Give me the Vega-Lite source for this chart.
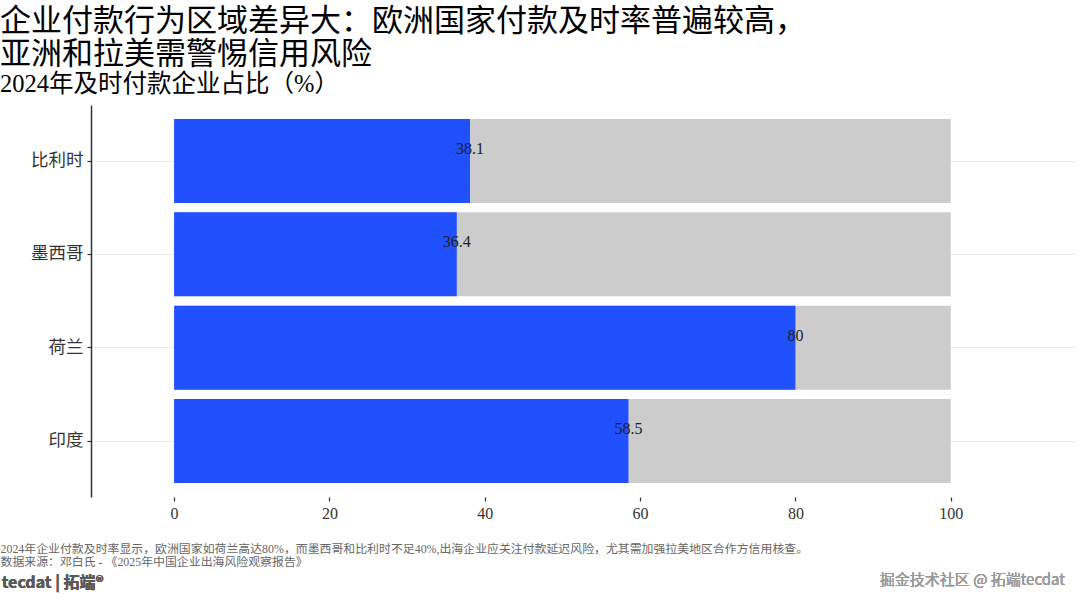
{
  "$schema": "https://vega.github.io/schema/vega-lite/v6.json",
  "width": 984,
  "height": 392,
  "autosize": {"type": "none"},
  "padding": {"left": 91, "top": 105, "right": 5, "bottom": 108},
  "background": "white",
  "config": {
    "view": {"stroke": null},
    "font": "Liberation Serif, Noto Sans CJK SC"
  },
  "title": {
    "text": ["企业付款行为区域差异大：欧洲国家付款及时率普遍较高，", "亚洲和拉美需警惕信用风险"],
    "subtitle": "2024年及时付款企业占比（%）",
    "anchor": "start",
    "frame": "group",
    "dx": -91,
    "offset": 8,
    "font": "Liberation Serif, Noto Sans CJK SC",
    "fontSize": 31,
    "fontWeight": "normal",
    "lineHeight": 32.5,
    "color": "#000000",
    "subtitleFont": "Liberation Serif, Noto Sans CJK SC",
    "subtitleFontSize": 24.5,
    "subtitleColor": "#000000",
    "subtitlePadding": 2
  },
  "data": {
    "values": [
      {"country": "比利时", "value": 38.1, "total": 100},
      {"country": "墨西哥", "value": 36.4, "total": 100},
      {"country": "荷兰", "value": 80, "total": 100},
      {"country": "印度", "value": 58.5, "total": 100}
    ]
  },
  "resolve": {"scale": {"y": "independent"}},
  "layer": [
    {
      "encoding": {
        "y": {
          "field": "country",
          "type": "nominal",
          "sort": ["比利时", "墨西哥", "荷兰", "印度"],
          "scale": {"paddingInner": 0.1, "paddingOuter": 0.15},
          "axis": {
            "title": null,
            "domain": true,
            "domainColor": "#333333",
            "domainWidth": 1.5,
            "ticks": true,
            "tickSize": 4,
            "tickColor": "#333333",
            "tickWidth": 1.2,
            "labelFontSize": 17.5,
            "labelColor": "#333333",
            "labelPadding": 4,
            "labelFont": "Liberation Serif, Noto Sans CJK SC",
            "grid": true,
            "gridColor": "#ebebeb",
            "gridWidth": 1
          }
        }
      },
      "layer": [
        {
          "mark": {"type": "bar", "color": "#CCCCCC"},
          "encoding": {
            "x": {
              "field": "total",
              "type": "quantitative",
              "scale": {"domain": [-10.7, 116], "nice": false, "zero": false},
              "axis": {
                "values": [0, 20, 40, 60, 80, 100],
                "domain": false,
                "grid": false,
                "tickSize": 4,
                "tickColor": "#333333",
                "tickWidth": 1.2,
                "labelFontSize": 16,
                "labelColor": "#333333",
                "labelPadding": 4,
                "labelFont": "Liberation Serif, Noto Sans CJK SC",
                "title": ["2024年企业付款及时率显示，欧洲国家如荷兰高达80%，而墨西哥和比利时不足40%,出海企业应关注付款延迟风险，尤其需加强拉美地区合作方信用核查。", "数据来源：邓白氏 - 《2025年中国企业出海风险观察报告》"],
                "titleFont": "Liberation Serif, Noto Sans CJK SC",
                "titleFontSize": 11.9,
                "titleFontWeight": "normal",
                "titleColor": "#666666",
                "titleAnchor": "start",
                "titleAlign": "left",
                "titleBaseline": "alphabetic",
                "titleX": -91,
                "titleY": 55,
                "titleLineHeight": 13
              }
            },
            "x2": {"datum": 0}
          }
        },
        {
          "mark": {"type": "bar", "color": "#2150FF"},
          "encoding": {
            "x": {"field": "value", "type": "quantitative"},
            "x2": {"datum": 0}
          }
        },
        {
          "mark": {"type": "text", "dy": -12, "fontSize": 16, "color": "#222222", "align": "center", "baseline": "middle", "font": "Liberation Serif, Noto Sans CJK SC"},
          "encoding": {
            "x": {"field": "value", "type": "quantitative"},
            "text": {"field": "value", "type": "quantitative"}
          }
        }
      ]
    },
    {
      "mark": {"type": "text", "align": "left", "baseline": "middle", "fontSize": 16, "fontWeight": "bold", "color": "#5a5a5a", "font": "Noto Sans CJK SC", "clip": false},
      "encoding": {
        "x": {"datum": -22.2, "type": "quantitative"},
        "y": {"datum": -0.219, "type": "quantitative", "scale": {"domain": [0, 1], "nice": false, "zero": false}, "axis": null},
        "text": {"value": "tecdat | 拓端®"}
      }
    },
    {
      "mark": {"type": "text", "align": "right", "baseline": "middle", "fontSize": 15, "fontWeight": "normal", "color": "#9a9a9a", "font": "Noto Sans CJK SC", "clip": false},
      "encoding": {
        "x": {"datum": 114.7, "type": "quantitative"},
        "y": {"datum": -0.212, "type": "quantitative", "scale": {"domain": [0, 1], "nice": false, "zero": false}, "axis": null},
        "text": {"value": "掘金技术社区 @ 拓端tecdat"}
      }
    }
  ]
}
